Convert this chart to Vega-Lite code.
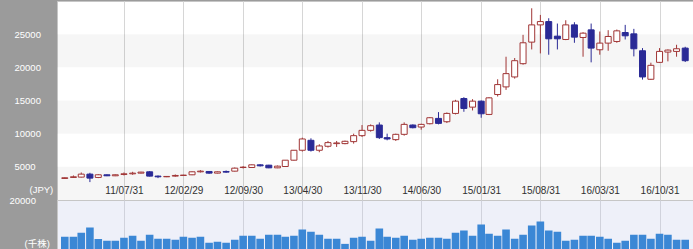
{
  "$schema": "https://vega.github.io/schema/vega-lite/v6.json",
  "background": "#9b9b9b",
  "padding": {"left": 0, "top": 0, "right": 1, "bottom": 0},
  "config": {
    "font": "Liberation Sans",
    "axis": {"labelFont": "Liberation Sans", "titleFont": "Liberation Sans, Noto Sans CJK JP"},
    "view": {"stroke": "#c6c6c6"}
  },
  "datasets": {
    "bands": [
      {"lo": 0, "hi": 5000},
      {"lo": 10000, "hi": 15000},
      {"lo": 20000, "hi": 25000}
    ],
    "ohlc": [
      {"d": "2010-12-31", "o": 3250, "h": 3400, "l": 3200, "c": 3350, "v": 5300},
      {"d": "2011-01-31", "o": 3400, "h": 3700, "l": 3350, "c": 3500, "v": 5300},
      {"d": "2011-02-28", "o": 3450, "h": 4150, "l": 3400, "c": 3900, "v": 6900},
      {"d": "2011-03-31", "o": 3900, "h": 4100, "l": 2700, "c": 3300, "v": 9000},
      {"d": "2011-04-30", "o": 3400, "h": 3900, "l": 3300, "c": 3800, "v": 4400},
      {"d": "2011-05-31", "o": 3800, "h": 3850, "l": 3600, "c": 3650, "v": 3700},
      {"d": "2011-06-30", "o": 3650, "h": 3850, "l": 3600, "c": 3800, "v": 3700},
      {"d": "2011-07-31", "o": 3850, "h": 4150, "l": 3700, "c": 3950, "v": 4900},
      {"d": "2011-08-31", "o": 3950, "h": 4250, "l": 3800, "c": 4050, "v": 5700},
      {"d": "2011-09-30", "o": 4050, "h": 4250, "l": 4000, "c": 4200, "v": 3700},
      {"d": "2011-10-31", "o": 4250, "h": 4350, "l": 3550, "c": 3600, "v": 6100},
      {"d": "2011-11-30", "o": 3600, "h": 3700, "l": 3300, "c": 3500, "v": 4500},
      {"d": "2011-12-31", "o": 3500, "h": 3600, "l": 3450, "c": 3550, "v": 4500},
      {"d": "2012-01-31", "o": 3600, "h": 3850, "l": 3500, "c": 3700, "v": 4100},
      {"d": "2012-02-29", "o": 3700, "h": 3800, "l": 3650, "c": 3750, "v": 5300},
      {"d": "2012-03-31", "o": 3800, "h": 4300, "l": 3750, "c": 4250, "v": 4900},
      {"d": "2012-04-30", "o": 4250, "h": 4500, "l": 4150, "c": 4350, "v": 5300},
      {"d": "2012-05-31", "o": 4300, "h": 4350, "l": 3950, "c": 4050, "v": 2900},
      {"d": "2012-06-30", "o": 4050, "h": 4300, "l": 4000, "c": 4250, "v": 3300},
      {"d": "2012-07-31", "o": 4300, "h": 4450, "l": 4100, "c": 4200, "v": 2900},
      {"d": "2012-08-31", "o": 4350, "h": 4900, "l": 4300, "c": 4800, "v": 4100},
      {"d": "2012-09-30", "o": 4900, "h": 5100, "l": 4750, "c": 4950, "v": 5700},
      {"d": "2012-10-31", "o": 4900, "h": 5350, "l": 4850, "c": 5300, "v": 5700},
      {"d": "2012-11-30", "o": 5300, "h": 5400, "l": 5050, "c": 5150, "v": 4500},
      {"d": "2012-12-31", "o": 5250, "h": 5300, "l": 4800, "c": 4850, "v": 6100},
      {"d": "2013-01-31", "o": 4850, "h": 5200, "l": 4800, "c": 5100, "v": 6100},
      {"d": "2013-02-28", "o": 5050, "h": 6000, "l": 5000, "c": 6000, "v": 5300},
      {"d": "2013-03-31", "o": 6000, "h": 7500, "l": 5950, "c": 7500, "v": 5700},
      {"d": "2013-04-30", "o": 7500, "h": 9400, "l": 7300, "c": 9200, "v": 8200},
      {"d": "2013-05-31", "o": 9000, "h": 9300, "l": 7300, "c": 7500, "v": 7300},
      {"d": "2013-06-30", "o": 7500, "h": 8400, "l": 7200, "c": 8150, "v": 6100},
      {"d": "2013-07-31", "o": 8100, "h": 8900, "l": 7900, "c": 8650, "v": 4500},
      {"d": "2013-08-31", "o": 8500, "h": 8900, "l": 8000, "c": 8600, "v": 4500},
      {"d": "2013-09-30", "o": 8500, "h": 8950, "l": 8400, "c": 8850, "v": 2450},
      {"d": "2013-10-31", "o": 8800, "h": 10000, "l": 8500, "c": 9700, "v": 4900},
      {"d": "2013-11-30", "o": 9700, "h": 11300, "l": 9500, "c": 10500, "v": 5300},
      {"d": "2013-12-31", "o": 10500, "h": 11400, "l": 10300, "c": 11200, "v": 3700},
      {"d": "2014-01-31", "o": 11300, "h": 11700, "l": 9200, "c": 9400, "v": 8600},
      {"d": "2014-02-28", "o": 9400, "h": 10000, "l": 9000, "c": 9200, "v": 5300},
      {"d": "2014-03-31", "o": 9100, "h": 10000, "l": 8900, "c": 9900, "v": 4900},
      {"d": "2014-04-30", "o": 9900, "h": 11700, "l": 9700, "c": 11400, "v": 5700},
      {"d": "2014-05-31", "o": 11300, "h": 11400, "l": 10800, "c": 10900, "v": 4100},
      {"d": "2014-06-30", "o": 11000, "h": 11500, "l": 10600, "c": 11400, "v": 4500},
      {"d": "2014-07-31", "o": 11500, "h": 12500, "l": 11400, "c": 12400, "v": 4900},
      {"d": "2014-08-31", "o": 12300, "h": 13250, "l": 11400, "c": 11550, "v": 4900},
      {"d": "2014-09-30", "o": 11800, "h": 13200, "l": 11600, "c": 13050, "v": 4500},
      {"d": "2014-10-31", "o": 13050, "h": 15100, "l": 12900, "c": 14900, "v": 6900},
      {"d": "2014-11-30", "o": 15300, "h": 15500, "l": 13300, "c": 13800, "v": 7800},
      {"d": "2014-12-31", "o": 14000, "h": 15200, "l": 13500, "c": 14900, "v": 5700},
      {"d": "2015-01-31", "o": 14900, "h": 15000, "l": 12400, "c": 13000, "v": 10200},
      {"d": "2015-02-28", "o": 12900, "h": 15500, "l": 12800, "c": 15400, "v": 6500},
      {"d": "2015-03-31", "o": 15900, "h": 18200, "l": 15600, "c": 17400, "v": 5700},
      {"d": "2015-04-30", "o": 17050, "h": 21600, "l": 16600, "c": 19050, "v": 8200},
      {"d": "2015-05-31", "o": 18550, "h": 21400, "l": 18300, "c": 21000, "v": 4500},
      {"d": "2015-06-30", "o": 20550, "h": 24900, "l": 20400, "c": 23700, "v": 6100},
      {"d": "2015-07-31", "o": 23800, "h": 28900, "l": 22700, "c": 26400, "v": 9800},
      {"d": "2015-08-31", "o": 26400, "h": 27900, "l": 22100, "c": 26900, "v": 11400},
      {"d": "2015-09-30", "o": 26900, "h": 27400, "l": 21900, "c": 24300, "v": 7800},
      {"d": "2015-10-31", "o": 24700, "h": 26600, "l": 22700, "c": 24300, "v": 7300},
      {"d": "2015-11-30", "o": 24200, "h": 27100, "l": 24100, "c": 26400, "v": 3700},
      {"d": "2015-12-31", "o": 26400, "h": 26800, "l": 23700, "c": 24550, "v": 4100},
      {"d": "2016-01-31", "o": 24500, "h": 25300, "l": 21600, "c": 25150, "v": 5700},
      {"d": "2016-02-29", "o": 25650, "h": 26600, "l": 20750, "c": 22900, "v": 5700},
      {"d": "2016-03-31", "o": 22650, "h": 25400, "l": 21900, "c": 23650, "v": 5300},
      {"d": "2016-04-30", "o": 23650, "h": 25600, "l": 22500, "c": 24650, "v": 4500},
      {"d": "2016-05-31", "o": 23900, "h": 25700, "l": 23700, "c": 25500, "v": 2900},
      {"d": "2016-06-30", "o": 25250, "h": 26400, "l": 24200, "c": 24750, "v": 3700},
      {"d": "2016-07-31", "o": 25050, "h": 25800, "l": 21650, "c": 22800, "v": 6100},
      {"d": "2016-08-31", "o": 22500, "h": 22900, "l": 18150, "c": 18550, "v": 6100},
      {"d": "2016-09-30", "o": 18200, "h": 20700, "l": 18100, "c": 20300, "v": 4500},
      {"d": "2016-10-31", "o": 20750, "h": 22900, "l": 20650, "c": 22400, "v": 6500},
      {"d": "2016-11-30", "o": 22300, "h": 22700, "l": 20900, "c": 22600, "v": 6100},
      {"d": "2016-12-31", "o": 22400, "h": 23400, "l": 21600, "c": 22800, "v": 4100},
      {"d": "2017-01-31", "o": 22900, "h": 23100, "l": 20800, "c": 21000, "v": 4100}
    ]
  },
  "spacing": 0,
  "bounds": "flush",
  "vconcat": [
    {
      "width": 636,
      "height": 199,
      "view": {"fill": "#ffffff", "stroke": "#c6c6c6"},
      "layer": [
        {
          "data": {"name": "bands"},
          "mark": {"type": "rect", "color": "#000000", "opacity": 0.035},
          "encoding": {
            "y": {
              "field": "lo", "type": "quantitative",
              "scale": {"domain": [0, 30000], "nice": false, "zero": true},
              "axis": {
                "values": [5000, 10000, 15000, 20000, 25000],
                "format": "d",
                "labelAlign": "left", "labelBaseline": "middle", "labelPadding": 43,
                "ticks": false, "tickSize": 0, "domain": false, "grid": false,
                "labelColor": "#ffffff", "labelFontSize": 9.5,
                "title": "(JPY)", "titleX": -28, "titleY": 188, "titleAngle": 0,
                "titleAlign": "left", "titleBaseline": "middle",
                "titleColor": "#ffffff", "titleFontSize": 9.5, "titleFontWeight": "normal",
                "minExtent": 56, "maxExtent": 56
              }
            },
            "y2": {"field": "hi"}
          }
        },
        {
          "data": {"name": "ohlc"},
          "mark": {"type": "rule", "strokeWidth": 1},
          "encoding": {
            "x": {
              "field": "d", "type": "temporal",
              "scale": {"type": "utc", "domain": [{"year": 2010, "month": 12, "date": 21, "utc": true}, {"year": 2017, "month": 2, "date": 10, "utc": true}]},
              "axis": {
                "values": [
                  {"year": 2011, "month": 7, "date": 31, "utc": true},
                  {"year": 2012, "month": 2, "date": 29, "utc": true},
                  {"year": 2012, "month": 9, "date": 30, "utc": true},
                  {"year": 2013, "month": 4, "date": 30, "utc": true},
                  {"year": 2013, "month": 11, "date": 30, "utc": true},
                  {"year": 2014, "month": 6, "date": 30, "utc": true},
                  {"year": 2015, "month": 1, "date": 31, "utc": true},
                  {"year": 2015, "month": 8, "date": 31, "utc": true},
                  {"year": 2016, "month": 3, "date": 31, "utc": true},
                  {"year": 2016, "month": 10, "date": 31, "utc": true}
                ],
                "labelExpr": "utcFormat(datum.value, '%y/%m/%d')",
                "title": null, "domain": false, "ticks": false, "tickSize": 0,
                "labelPadding": -10, "labelBaseline": "middle", "labelFlush": false, "labelOverlap": false,
                "labelColor": "#333333", "labelFontSize": 10,
                "grid": true, "gridColor": "#d6d6d6", "minExtent": 0, "maxExtent": 0
              }
            },
            "y": {"field": "l", "type": "quantitative"},
            "y2": {"field": "h"},
            "color": {"condition": {"test": "datum.c >= datum.o", "value": "#a03535"}, "value": "#2a2a96"}
          }
        },
        {
          "data": {"name": "ohlc"},
          "mark": {"type": "bar", "width": 6, "strokeWidth": 1},
          "encoding": {
            "x": {
              "field": "d", "type": "temporal",
              "scale": {"type": "utc", "domain": [{"year": 2010, "month": 12, "date": 21, "utc": true}, {"year": 2017, "month": 2, "date": 10, "utc": true}]}
            },
            "y": {"field": "o", "type": "quantitative"},
            "y2": {"field": "c"},
            "fill": {"condition": {"test": "datum.c >= datum.o", "value": "#ffffff"}, "value": "#2a2a96"},
            "stroke": {"condition": {"test": "datum.c >= datum.o", "value": "#a03535"}, "value": "#2a2a96"}
          }
        }
      ]
    },
    {
      "width": 636,
      "height": 50,
      "view": {"fill": "#eef0f9", "stroke": "#c6c6c6"},
      "data": {"name": "ohlc"},
      "mark": {"type": "bar", "width": 7.6, "color": "#3b87d5"},
      "encoding": {
        "x": {
          "field": "d", "type": "temporal",
          "scale": {"type": "utc", "domain": [{"year": 2010, "month": 12, "date": 21, "utc": true}, {"year": 2017, "month": 2, "date": 10, "utc": true}]},
          "axis": {
            "values": [
              {"year": 2011, "month": 7, "date": 31, "utc": true},
              {"year": 2012, "month": 2, "date": 29, "utc": true},
              {"year": 2012, "month": 9, "date": 30, "utc": true},
              {"year": 2013, "month": 4, "date": 30, "utc": true},
              {"year": 2013, "month": 11, "date": 30, "utc": true},
              {"year": 2014, "month": 6, "date": 30, "utc": true},
              {"year": 2015, "month": 1, "date": 31, "utc": true},
              {"year": 2015, "month": 8, "date": 31, "utc": true},
              {"year": 2016, "month": 3, "date": 31, "utc": true},
              {"year": 2016, "month": 10, "date": 31, "utc": true}
            ],
            "labels": false, "title": null, "domain": false, "ticks": false,
            "grid": true, "gridColor": "#d0d2dc", "minExtent": 0, "maxExtent": 0
          }
        },
        "y": {
          "field": "v", "type": "quantitative",
          "scale": {"domain": [0, 20000], "nice": false},
          "axis": {
            "values": [20000],
            "format": "d",
            "labelAlign": "left", "labelBaseline": "middle", "labelPadding": 48,
            "ticks": false, "tickSize": 0, "domain": false, "grid": false,
            "labelColor": "#ffffff", "labelFontSize": 9.5,
            "title": "(千株)", "titleX": -33, "titleY": 43, "titleAngle": 0,
            "titleAlign": "left", "titleBaseline": "middle",
            "titleColor": "#ffffff", "titleFontSize": 9.5, "titleFontWeight": "normal",
            "minExtent": 56, "maxExtent": 56
          }
        }
      }
    }
  ]
}
